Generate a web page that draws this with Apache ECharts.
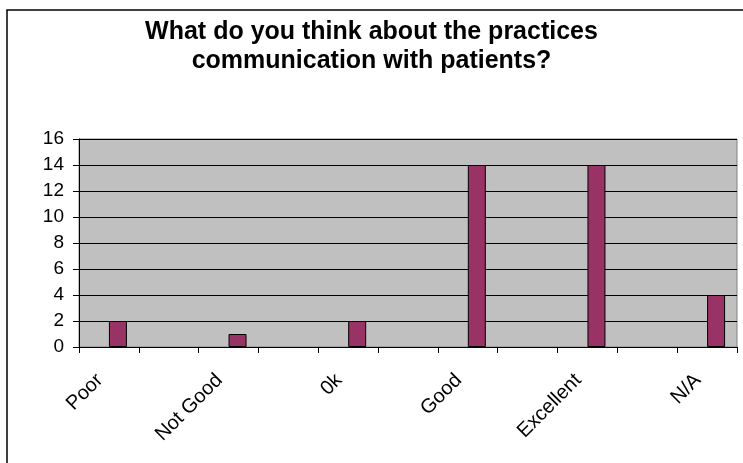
<!DOCTYPE html>
<html>
<head>
<meta charset="utf-8">
<script src="https://cdn.jsdelivr.net/npm/echarts@6/dist/echarts.min.js"></script>
<style>
html,body{margin:0;padding:0;background:#fff;}
#chart{width:743px;height:463px;}
</style>
</head>
<body>
<div id="chart"></div>
<script>
const titleText = 'What do you think about the practices\ncommunication with patients?';
const categories = ['Poor', '', 'Not Good', '', '0k', '', 'Good', '', 'Excellent', '', 'N/A'];
const emptySeries = [null, null, null, null, null, null, null, null, null, null, null];
const responses = [2, null, 1, null, 2, null, 14, null, 14, null, 4];
const yTicks = { min: 0, max: 16, interval: 2 };

const ARIAL = "'Liberation Sans', Arial, sans-serif";
const chart = echarts.init(document.getElementById('chart'), null, { renderer: 'canvas' });

chart.setOption({
  animation: false,
  backgroundColor: '#ffffff',
  title: {
    text: titleText,
    left: 'center',
    top: 18,
    padding: [0, 0, 0, 9],
    textStyle: { fontFamily: ARIAL, fontWeight: 'bold', fontSize: 25, lineHeight: 29, color: '#000' }
  },
  graphic: [{
    type: 'rect', silent: true, z: -10,
    shape: { x: 7, y: 10, width: 800, height: 520 },
    style: { fill: null, stroke: '#000', lineWidth: 1.5 }
  }],
  grid: {
    left: 79, right: 6, top: 139, bottom: 116,
    show: true, backgroundColor: '#C0C0C0', borderColor: '#808080', borderWidth: 1
  },
  xAxis: {
    type: 'category',
    data: categories,
    boundaryGap: true,
    axisLine: { show: true, lineStyle: { color: '#000', width: 1 } },
    axisTick: { show: true, interval: 0, length: 6, alignWithLabel: false, lineStyle: { color: '#000' } },
    axisLabel: {
      interval: 0, rotate: 45, margin: 21, color: '#000',
      fontFamily: ARIAL, fontSize: 20,
      padding: [0, 13, 0, 0]
    },
    splitLine: { show: false }
  },
  yAxis: {
    type: 'value',
    min: yTicks.min, max: yTicks.max, interval: yTicks.interval,
    axisLine: { show: true, lineStyle: { color: '#000', width: 1 } },
    axisTick: { show: true, length: 6, lineStyle: { color: '#000' } },
    axisLabel: { color: '#000', fontFamily: ARIAL, fontSize: 19, margin: 15, padding: [3, 0, 0, 0] },
    splitLine: { show: true, lineStyle: { color: '#000', width: 1 } }
  },
  series: [
    {
      name: 'Series1', type: 'bar', data: emptySeries,
      barWidth: 18, barGap: '0%',
      itemStyle: { color: '#9999FF', borderColor: '#000', borderWidth: 1 }
    },
    {
      name: 'Series2', type: 'bar', data: responses,
      barWidth: 18, barGap: '0%',
      itemStyle: { color: '#993366', borderColor: '#000', borderWidth: 1 }
    }
  ]
});
</script>
</body>
</html>
